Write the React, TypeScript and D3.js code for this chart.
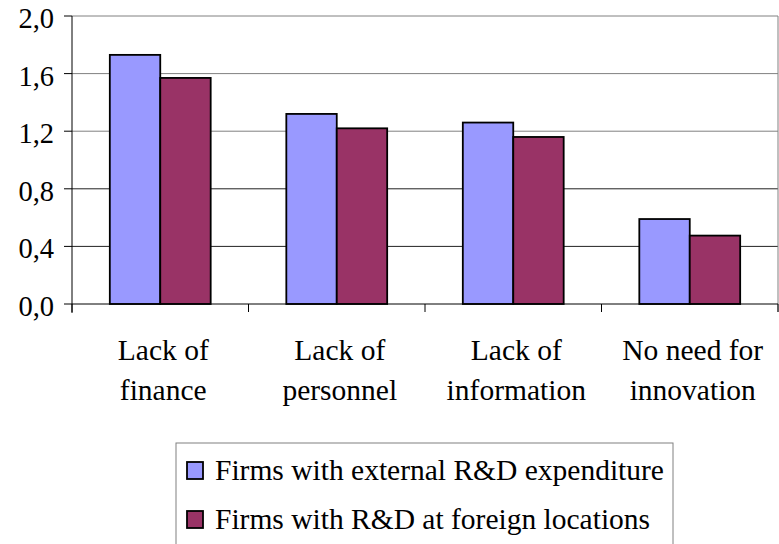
import React from "react";
import * as d3 from "d3";

const categories = [
  ["Lack of", "finance"],
  ["Lack of", "personnel"],
  ["Lack of", "information"],
  ["No need for", "innovation"],
];
const seriesNames = [
  "Firms with external R&D expenditure",
  "Firms with R&D at foreign locations",
];
const externalRD = [1.73, 1.32, 1.26, 0.59];
const foreignRD = [1.57, 1.22, 1.16, 0.475];
const yTicks = [0, 0.4, 0.8, 1.2, 1.6, 2.0];
const colors = ["#9999ff", "#993366"];

const W = 779;
const H = 544;
const font = `"Liberation Serif", "Times New Roman", serif`;

export default function App() {
  const left = 72;
  const right = 778;
  const top = 16;
  const bottom = 304;

  const x = d3
    .scaleBand<number>()
    .domain(d3.range(categories.length))
    .range([left, right]);
  const inner = d3
    .scaleBand<number>()
    .domain([0, 1])
    .range([0, x.bandwidth()])
    .paddingOuter(0.75);
  const y = d3.scaleLinear().domain([0, 2]).range([bottom, top]);

  const series = [externalRD, foreignRD];
  const fmt = (v: number) => v.toFixed(1).replace(".", ",");
  const boundaries = d3.range(categories.length + 1).map((i) => left + i * x.step());
  const tickTxt = { fontFamily: font, fontSize: 28.5 };
  const txt = { fontFamily: font, fontSize: 29.5 };

  return (
    <svg width={W} height={H} style={{ position: "absolute", left: 0, top: 0 }}>
      <rect width={W} height={H} fill="#fff" />
      {/* gridlines */}
      {yTicks.slice(1).map((t) => (
        <line
          key={t}
          x1={left}
          x2={right}
          y1={y(t)}
          y2={y(t)}
          stroke={t >= 1.2 ? "#808080" : "#222"}
          strokeWidth={1}
        />
      ))}
      <line x1={right} x2={right} y1={top} y2={bottom + 8} stroke="#808080" />
      {/* bars */}
      {series.map((vals, s) =>
        vals.map((v, i) => (
          <rect
            key={`${s}-${i}`}
            x={(x(i) as number) + (inner(s) as number)}
            y={y(v)}
            width={inner.bandwidth()}
            height={bottom - y(v)}
            fill={colors[s]}
            stroke="#000"
            strokeWidth={1.8}
          />
        ))
      )}
      {/* axes */}
      <line x1={left} x2={left} y1={top} y2={bottom + 9} stroke="#000" />
      <line x1={left} x2={right} y1={bottom} y2={bottom} stroke="#000" />
      {yTicks.map((t) => (
        <g key={t}>
          <line x1={left - 8} x2={left} y1={y(t)} y2={y(t)} stroke="#000" />
          <text x={54} y={y(t) + 12} textAnchor="end" style={tickTxt} fill="#000">
            {fmt(t)}
          </text>
        </g>
      ))}
      {boundaries.map((bx, i) => (
        <line key={i} x1={bx} x2={bx} y1={bottom} y2={bottom + 8} stroke="#000" />
      ))}
      {categories.map((lines, i) => (
        <text
          key={i}
          x={(x(i) as number) + x.bandwidth() / 2 + 3}
          textAnchor="middle"
          style={txt}
          fill="#000"
        >
          {lines.map((l, j) => (
            <tspan key={j} x={(x(i) as number) + x.bandwidth() / 2 + 3} y={360 + j * 40}>
              {l}
            </tspan>
          ))}
        </text>
      ))}
      {/* legend */}
      <rect x={176} y={443} width={497} height={120} fill="#fff" stroke="#808080" />
      {seriesNames.map((name, s) => (
        <g key={s} transform={`translate(0, ${s * 49})`}>
          <rect x={187} y={462} width={16} height={17} fill={colors[s]} stroke="#000" strokeWidth={1.8} />
          <text x={215} y={480} style={txt} fill="#000">
            {name}
          </text>
        </g>
      ))}
    </svg>
  );
}
